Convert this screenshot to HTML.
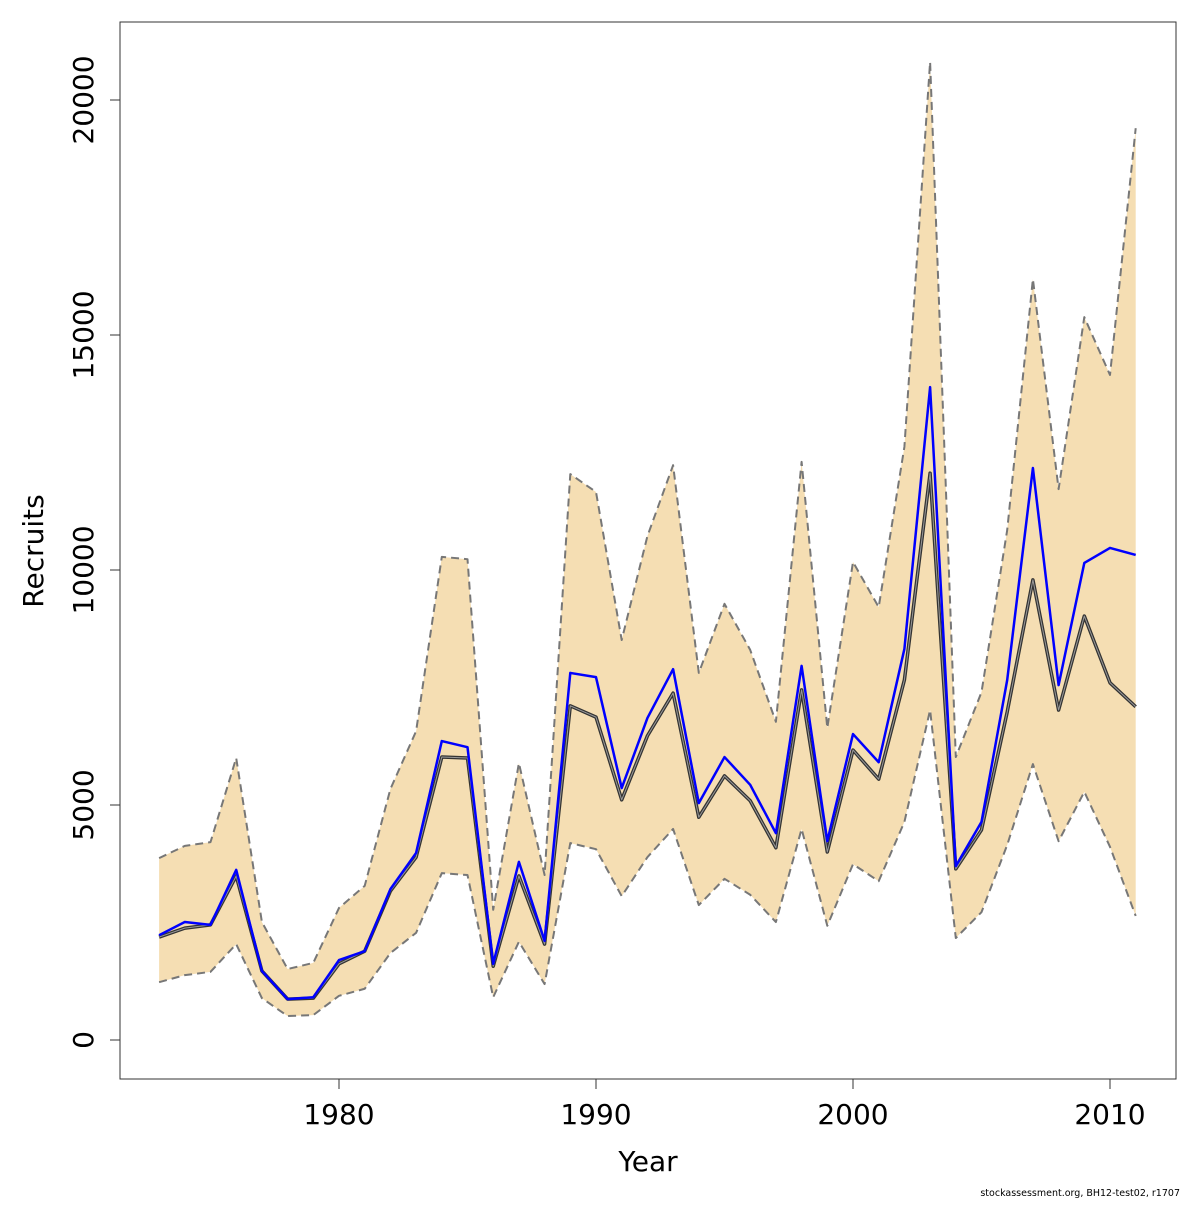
<!DOCTYPE html>
<html><head><meta charset="utf-8"><style>
body{margin:0;background:#fff}
text{font-family:"DejaVu Sans","Liberation Sans",sans-serif}
</style></head><body>
<svg id="c" width="1200" height="1200" viewBox="0 0 1200 1200">
<rect x="0" y="0" width="1200" height="1200" fill="#fff"/>
<g id="plot"></g>
<rect x="120" y="22" width="1056" height="1057" fill="none" stroke="#333" stroke-width="1"/>
<g id="axes"></g>
<text x="648" y="1171" font-size="28" text-anchor="middle">Year</text>
<text transform="translate(43,551) rotate(-90)" font-size="28" text-anchor="middle">Recruits</text>
<text x="1180" y="1196" font-size="9.5" text-anchor="end">stockassessment.org, BH12-test02, r1707</text>
</svg>
<script>
const years=[];for(let y=1973;y<=2011;y++)years.push(y);
const estimate=[2230,2510,2450,3620,1470,870,910,1700,1890,3210,3980,6360,6230,1620,3790,2110,7810,7720,5360,6850,7890,5040,6020,5430,4400,7960,4230,6510,5910,8320,13890,3700,4640,7660,12170,7550,10150,10470,10320];
const median=[2190,2380,2450,3490,1470,870,890,1620,1890,3170,3890,6020,6000,1570,3490,2040,7110,6870,5110,6470,7380,4740,5620,5090,4090,7450,4000,6170,5550,7660,12060,3640,4470,6980,9790,7020,9020,7600,7090];
const upper=[3870,4130,4210,6000,2510,1510,1640,2810,3280,5340,6570,10280,10230,2770,5890,3510,12040,11660,8510,10720,12230,7810,9280,8300,6770,12300,6640,10170,9210,12620,20810,6020,7400,10850,16190,11720,15380,14150,19400];
const lower=[1230,1380,1450,2040,890,510,530,940,1090,1850,2280,3550,3510,910,2090,1190,4190,4060,3060,3890,4490,2870,3430,3090,2510,4490,2430,3740,3380,4640,7020,2170,2720,4150,5870,4230,5280,4110,2640];
const xTicks=[1980,1990,2000,2010];
const yTicks=[0,5000,10000,15000,20000];
const X=v=>339+(v-1980)*25.7;
const Y=v=>1040-v*0.047;
const NS="http://www.w3.org/2000/svg";
const plot=document.getElementById('plot'),axes=document.getElementById('axes');
function mk(t,a,p){const e=document.createElementNS(NS,t);for(const k in a)e.setAttribute(k,a[k]);p.appendChild(e);return e;}
const up=years.map((y,i)=>X(y)+','+Y(upper[i]));
const lo=years.map((y,i)=>X(y)+','+Y(lower[i])).reverse();
const band=mk('polygon',{points:up.concat(lo).join(' '),fill:'#f5deb3',stroke:'none'},plot);


function line(arr,stroke,w,dash,name){const e=mk('polyline',{points:years.map((y,i)=>X(y)+','+Y(arr[i])).join(' '),fill:'none',stroke:stroke,'stroke-width':w,'stroke-dasharray':dash||'none','stroke-linejoin':'round'},plot);

return e;}
line(upper,'#777',2,'8,5','upper-bound-line');
line(lower,'#777',2,'8,5','lower-bound-line');
line(median,'#333',3.5,null,'median-line');
line(median,'#999',1,null,'median-line-inner');
line(estimate,'#0000ff',2.5,null,'estimate-line');
xTicks.forEach(t=>{const g=mk('g',{},axes);


mk('line',{x1:X(t),x2:X(t),y1:1079,y2:1089,stroke:'#333'},g);
const tx=mk('text',{x:X(t),y:1124,'font-size':28,'text-anchor':'middle'},g);tx.textContent=t;});
yTicks.forEach(t=>{const g=mk('g',{},axes);


mk('line',{x1:110,x2:120,y1:Y(t),y2:Y(t),stroke:'#333'},g);
const tx=mk('text',{transform:`translate(93,${Y(t)}) rotate(-90)`,'font-size':28,'text-anchor':'middle'},g);tx.textContent=t;});
</script>
</body></html>
